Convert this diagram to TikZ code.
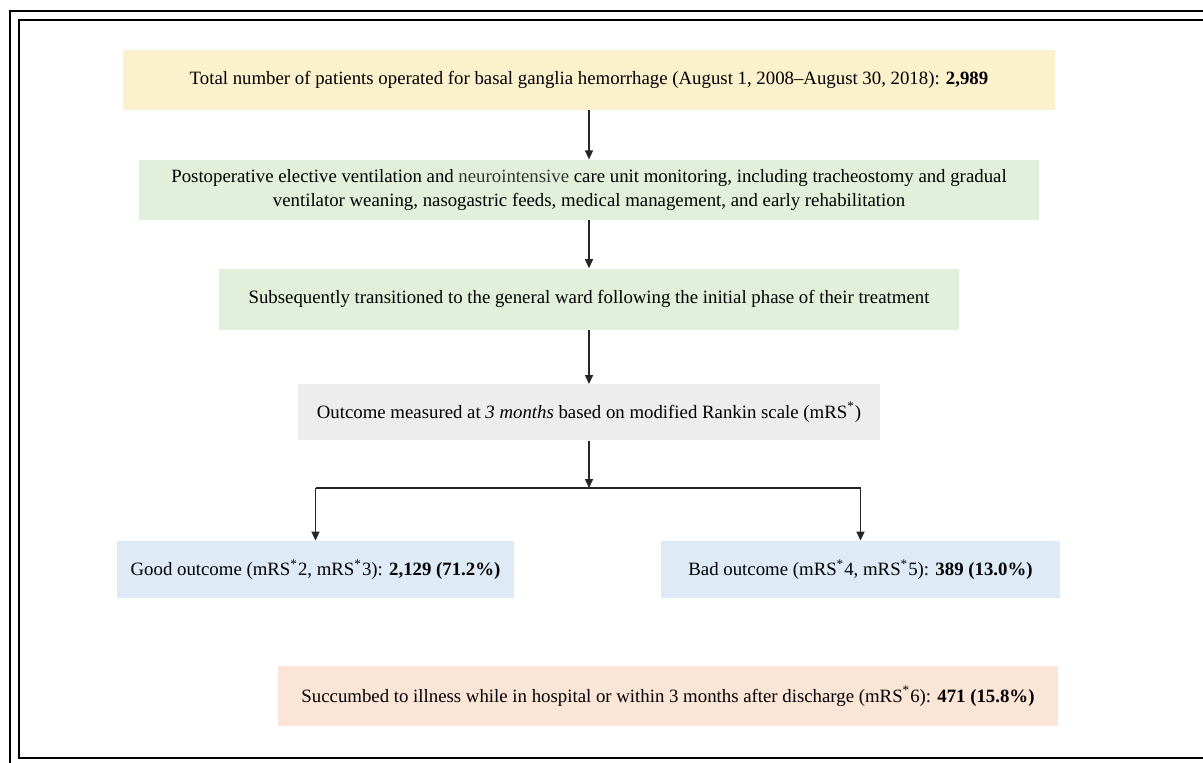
\documentclass[tikz,border=0pt]{standalone}
\usepackage{fontspec}
\setmainfont{Liberation Serif}
\usetikzlibrary{arrows.meta, positioning}
\definecolor{boxyellow}{RGB}{252,241,205}
\definecolor{boxgreen}{RGB}{226,239,218}
\definecolor{boxgray}{RGB}{237,237,237}
\definecolor{boxblue}{RGB}{222,234,246}
\definecolor{boxpeach}{RGB}{251,229,214}

\begin{document}
\begin{tikzpicture}[x=0.5pt, y=-0.5pt, >={Triangle[width=4pt,length=4.5pt]},
  box/.style={inner sep=0pt, minimum height=30pt, align=center,
              font=\fontsize{9.4}{12}\selectfont},
  link/.style={line width=0.75pt, draw=black!85}]
  \useasboundingbox (0,0) rectangle (1203,762);
  % double frame
  \draw[line width=1pt] (10,11) rectangle (1240,775);
  \draw[line width=1pt] (19,20) rectangle (1230,758);

  \node[box, fill=boxyellow, minimum width=466pt] (total) at (589,80)
    {Total number of patients operated for basal ganglia hemorrhage (August 1, 2008--August 30, 2018): \textbf{2,989}};
  \node[box, fill=boxgreen, minimum width=450pt, below=24.5pt of total] (icu)
    {Postoperative elective ventilation and {\color{black!80}neurointensive} care unit monitoring, including tracheostomy and gradual\\
     ventilator weaning, nasogastric feeds, medical management, and early rehabilitation};
  \node[box, fill=boxgreen, minimum width=370pt, minimum height=30.5pt, below=24pt of icu] (ward)
    {Subsequently transitioned to the general ward following the initial phase of their treatment};
  \node[box, fill=boxgray, minimum width=291pt, minimum height=28pt, below=27pt of ward] (mrs)
    {Outcome measured at \textit{3 months} based on modified Rankin scale (mRS\textsuperscript{*})};

  \node[box, fill=boxblue, minimum width=198.5pt, minimum height=28.5pt] (good) at (315.5,569.5)
    {Good outcome (mRS\textsuperscript{*}2, mRS\textsuperscript{*}3): \textbf{2,129 (71.2\%)}};
  \node[box, fill=boxblue, minimum width=199.5pt, minimum height=28.5pt] (bad) at (860.5,569.5)
    {Bad outcome (mRS\textsuperscript{*}4, mRS\textsuperscript{*}5): \textbf{389 (13.0\%)}};
  \node[box, fill=boxpeach, minimum width=390pt] (died) at (668,696)
    {Succumbed to illness while in hospital or within 3 months after discharge (mRS\textsuperscript{*}6): \textbf{471 (15.8\%)}};

  \coordinate (split) at (589,488);

  \draw[link, ->] (total) -- (icu);
  \draw[link, ->] (icu) -- (ward);
  \draw[link, ->] (ward) -- (mrs);
  \draw[link, ->] (mrs) -- (split);
  \draw[link] (good.north |- split) -- (bad.north |- split);
  \draw[link, ->] (good.north |- split) -- (good);
  \draw[link, ->] (bad.north |- split) -- (bad);
\end{tikzpicture}
\end{document}
